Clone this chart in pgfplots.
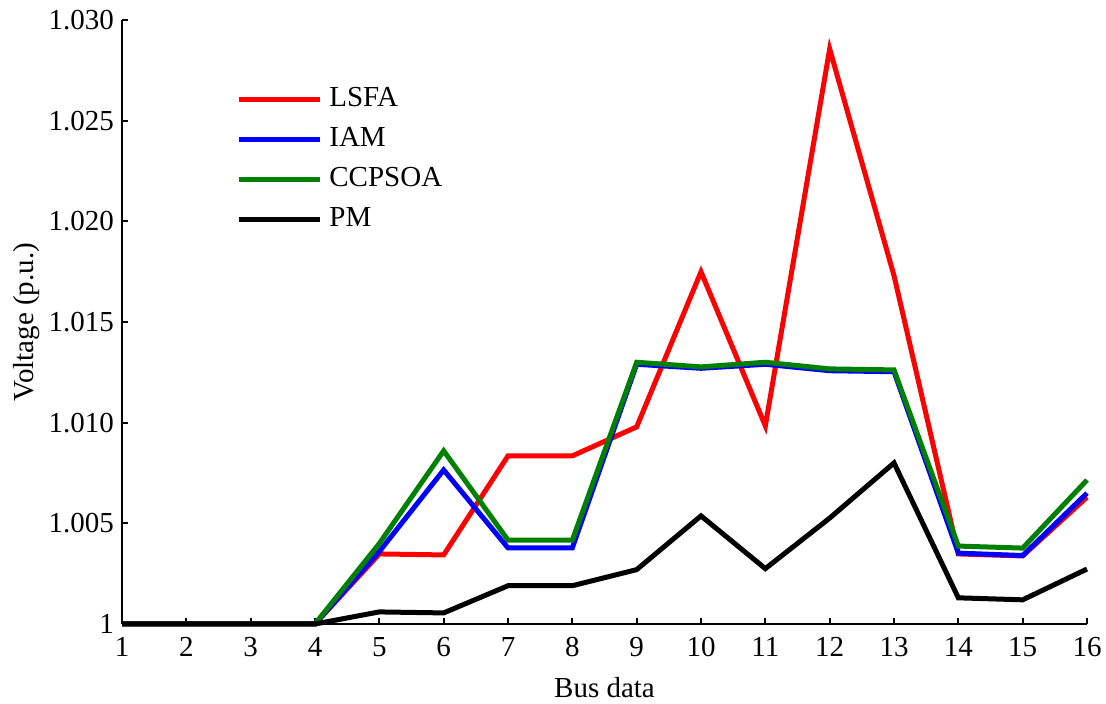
\documentclass[border=0pt]{standalone}
\usepackage{pgfplots}
\pgfplotsset{compat=1.18}
\usepackage{fontspec}
\setmainfont{Liberation Serif}
\begin{document}
\begin{tikzpicture}
\begin{axis}[
  scale only axis,
  width=482.5pt, height=302pt,
  xmin=1, xmax=16, ymin=1, ymax=1.030,
  clip=false,
  axis x line*=bottom, axis y line*=left,
  axis line style={line width=1.4pt},
  tick align=inside,
  major tick length=3pt,
  tick style={line width=1pt, black},
  xtick={1,...,16},
  ytick={1,1.005,1.010,1.015,1.020,1.025,1.030},
  yticklabels={1,1.005,1.010,1.015,1.020,1.025,1.030},
  /pgf/number format/assume math mode=true,
  tick label style={font=\fontsize{14.5}{17}\selectfont},
  xticklabel style={yshift=-3pt},
  yticklabel style={xshift=-0.5pt},
  label style={font=\fontsize{14.5}{17}\selectfont},
  xlabel={Bus data},
  ylabel={Voltage (p.u.)},
  xlabel style={at={(axis description cs:0.5,-0.106)}, anchor=center},
  ylabel style={at={(axis description cs:-0.099,0.5)}, anchor=center},
  legend style={draw=none, fill=none, at={(57pt,271pt)}, anchor=north west,
    font=\fontsize{14.5}{17}\selectfont, row sep=3pt, inner sep=0pt,
    nodes={text height=10pt, text depth=3pt}},
  legend cell align=left,
  legend image code/.code={\draw[#1, line width=2.5pt] (0pt,0pt) -- (40.5pt,0pt); \path (42pt,0pt);},
  every axis plot/.append style={line width=2.5pt},
]
\addplot[color={rgb,255:red,255;green,0;blue,0}] coordinates {
(1,1) (2,1) (3,1) (4,1) (5,1.00348) (6,1.00343) (7,1.00835) (8,1.00835)
(9,1.00979) (10,1.01749) (11,1.00984) (12,1.02856) (13,1.0173)
(14,1.00348) (15,1.00338) (16,1.0063)};
\addlegendentry{LSFA}
\addplot[color={rgb,255:red,0;green,0;blue,255}] coordinates {
(1,1) (2,1) (3,1) (4,1) (5,1.0036) (6,1.00765) (7,1.00378) (8,1.00378)
(9,1.0129) (10,1.0127) (11,1.0129) (12,1.01258) (13,1.01253)
(14,1.00352) (15,1.0034) (16,1.0065)};
\addlegendentry{IAM}
\addplot[color={rgb,255:red,0;green,128;blue,0}] coordinates {
(1,1) (2,1) (3,1) (4,1) (5,1.0040) (6,1.0086) (7,1.00417) (8,1.00417)
(9,1.0130) (10,1.01277) (11,1.0130) (12,1.01267) (13,1.01262)
(14,1.00387) (15,1.00377) (16,1.00715)};
\addlegendentry{CCPSOA}
\addplot[color=black] coordinates {
(1,1) (2,1) (3,1) (4,1) (5,1.0006) (6,1.00055) (7,1.0019) (8,1.0019)
(9,1.0027) (10,1.00537) (11,1.00275) (12,1.00526) (13,1.0080)
(14,1.0013) (15,1.0012) (16,1.00273)};
\addlegendentry{PM}
\end{axis}
\pgfresetboundingbox
\path ([shift={(-61pt,-40pt)}]current axis.south west) rectangle ([shift={(9.5pt,10pt)}]current axis.north east);
\end{tikzpicture}
\end{document}
